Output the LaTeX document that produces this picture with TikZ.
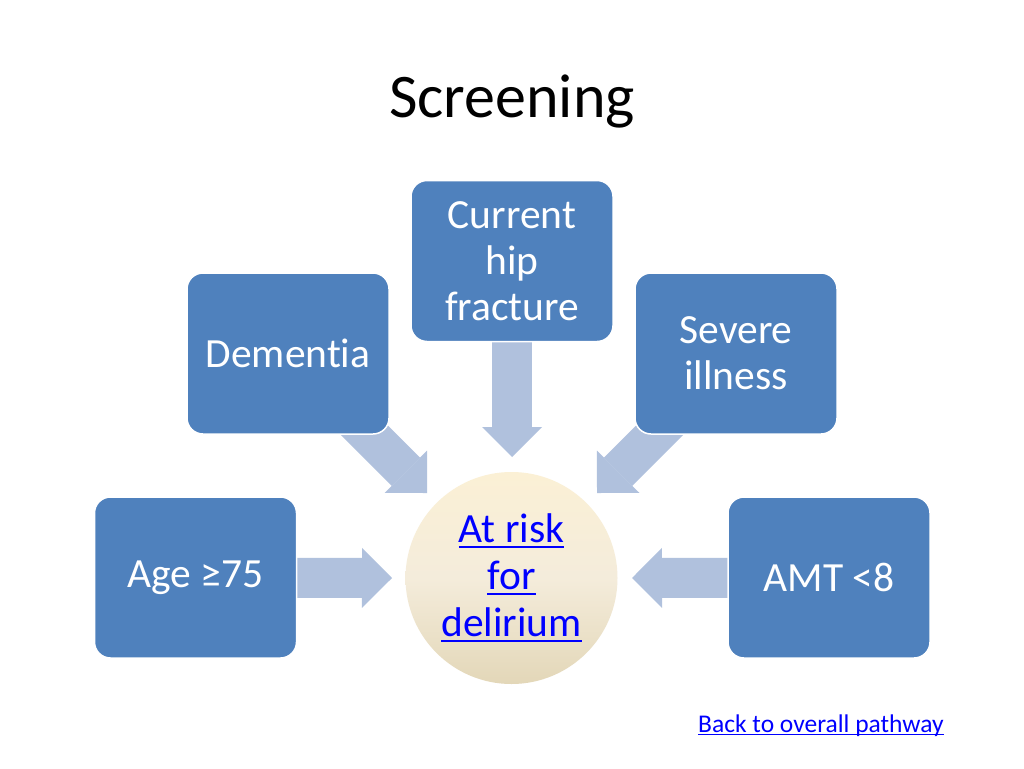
\documentclass[tikz,border=0pt]{standalone}
\usepackage{fontspec}
\setmainfont{Carlito}[Ligatures={NoCommon}]
\usetikzlibrary{arrows.meta}
\pgfdeclarelayer{back}
\pgfdeclarelayer{bg}
\pgfsetlayers{back,bg,main}
\definecolor{boxblue}{HTML}{4F81BD}
\definecolor{arrowblue}{HTML}{B0C1DD}
\definecolor{linkblue}{HTML}{0000FF}
\definecolor{creamtop}{HTML}{FBF0D5}
\definecolor{creammid}{HTML}{F4ECDB}
\definecolor{creambot}{HTML}{E3D7B8}
\newcommand\myul[3]{\setbox0\hbox{#1}\rlap{\rule[#2]{\wd0}{#3}}\box0}
\begin{document}
\begin{tikzpicture}[x=1pt,y=-1pt,
  box/.style={rectangle, rounded corners=16pt, fill=boxblue, draw=white,
    line width=1.5pt, minimum width=202pt, minimum height=161pt,
    text=white, align=center, inner sep=0pt,
    font=\fontsize{41.5}{46}\selectfont},
  fat/.style={draw=arrowblue, line width=40pt,
    -{Triangle[length=30pt,width=60pt,line width=0pt]}},
  hub/.style={circle, minimum size=212pt, inner sep=0pt,
    top color=creamtop, bottom color=creambot, middle color=creammid,
    text=linkblue, align=center, font=\fontsize{41.5}{47}\selectfont},
]
\useasboundingbox (0,0) rectangle (1024,768);
\begin{pgfonlayer}{back}
\fill[white] (0,0) rectangle (1024,768);
\end{pgfonlayer}

\node (title) [anchor=base, font=\fontsize{62}{74}\selectfont] at (512,117) {Screening};

\node (dem) [box] at (288,353.5) {Dementia};
\node (cur) [box] at (512,261) {Current\\hip\\fracture};
\node (sev) [box] at (736,353.5) {Severe\\illness};
\node (age) [box] at (195.5,577.5) {Age ≥75};
\node (amt) [box] at (829,577.5) {AMT <8};

\node (risk) [hub] at (511.5,578)
  {\myul{At risk}{-6pt}{2pt}\\\myul{for}{-6pt}{2pt}\\\myul{delirium}{-6pt}{2pt}};

\coordinate (tipL) at (392,578);
\coordinate (tipR) at (632,578);
\coordinate (tipT) at (512,457);
\coordinate (tipDL) at (427,493);
\coordinate (tipDR) at (597,493);

\begin{pgfonlayer}{bg}
\draw[fat] (age.center) -- (tipL);
\draw[fat] (amt.center) -- (tipR);
\draw[fat] (cur.center) -- (tipT);
\draw[fat] (dem.center) -- (tipDL);
\draw[fat] (sev.center) -- (tipDR);
\end{pgfonlayer}

\node (back) [anchor=base west, text=linkblue, inner sep=0pt,
  font=\fontsize{25.5}{30}\selectfont] at (698,732)
  {\myul{Back to overall pathway}{-3pt}{1.3pt}};
\end{tikzpicture}
\end{document}
